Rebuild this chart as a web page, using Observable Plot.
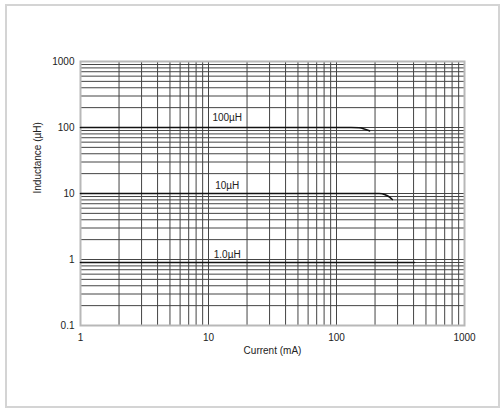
<!DOCTYPE html>
<html>
<head>
<meta charset="utf-8">
<script src="https://cdn.jsdelivr.net/npm/d3@7"></script>
<script src="https://cdn.jsdelivr.net/npm/@observablehq/plot@0.6"></script>
<style>
  html, body { margin: 0; padding: 0; background: #fff; }
  #wrap { position: relative; width: 501px; height: 408px; overflow: hidden; }
  #border { position: absolute; left: 5px; top: 4px; width: 491px; height: 400px; border: 2px solid #d4d4d4; }
  #chart { position: absolute; left: 0; top: 0; }
</style>
</head>
<body>
<div id="wrap"><div id="border"></div><div id="chart"></div></div>
<script>
// Tick labels
const xTicks = [1, 10, 100, 1000];
const yTicks = [0.1, 1, 10, 100, 1000];
// Grid lines (1..9 per decade)
const xGrid = [1,2,3,4,5,6,7,8,9,10,20,30,40,50,60,70,80,90,100,200,300,400,500,600,700,800,900,1000];
const yGrid = [0.1,0.2,0.3,0.4,0.5,0.6,0.7,0.8,0.9,1,2,3,4,5,6,7,8,9,10,20,30,40,50,60,70,80,90,100,200,300,400,500,600,700,800,900,1000];
// Series: current (mA) and inductance (µH)
const series = ["100µH", "10µH", "1.0µH"];
const curr100 = [1, 130, 150, 165, 181];
const ind100  = [100, 100, 99, 95, 89];
const curr10  = [1, 215, 240, 260, 273];
const ind10   = [10, 10, 9.6, 8.8, 8.1];
const curr1   = [1, 407];
const ind1    = [0.9, 0.9];
// Series label positions
const labelX = [14, 14, 14];
const labelY = [142, 13.2, 1.19];

const lines = [
  ...curr100.map((c, i) => ({s: series[0], x: c, y: ind100[i]})),
  ...curr10.map((c, i) => ({s: series[1], x: c, y: ind10[i]})),
  ...curr1.map((c, i) => ({s: series[2], x: c, y: ind1[i]}))
];
const labels = series.map((s, i) => ({s, x: labelX[i], y: labelY[i]}));

const font = "Liberation Sans, Arial, sans-serif";

const chart = Plot.plot({
  width: 501,
  height: 408,
  marginLeft: 80,
  marginRight: 37,
  marginTop: 61,
  marginBottom: 83,
  style: {fontFamily: font, fontSize: "10px", color: "#222", background: "transparent"},
  x: {type: "log", domain: [1, 1000]},
  y: {type: "log", domain: [0.1, 1000]},
  marks: [
    Plot.ruleX(xGrid, {x: d => d, stroke: "#444", strokeWidth: 1}),
    Plot.ruleY(yGrid, {y: d => d, stroke: "#444", strokeWidth: 1}),
    Plot.frame({stroke: "#b8b8b8", strokeWidth: 2}),
    Plot.line(lines, {x: "x", y: "y", z: "s", stroke: "#111", strokeWidth: 1.6, curve: "monotone-x"}),
    Plot.text(labels, {x: "x", y: "y", text: "s", fontSize: 10, fill: "#222"}),
    Plot.axisX(xTicks, {tickSize: 0, tickPadding: 8, tickFormat: d => String(d), fontSize: 10, label: null}),
    Plot.axisY(yTicks, {tickSize: 0, tickPadding: 6, tickFormat: d => String(d), fontSize: 10, label: null}),
    Plot.text(["Current (mA)"], {frameAnchor: "bottom", dy: 28, fontSize: 10, fill: "#222"}),
    Plot.text(["Inductance (µH)"], {frameAnchor: "left", dx: -43, rotate: -90, fontSize: 10, fill: "#222"})
  ]
});
document.getElementById("chart").appendChild(chart);
</script>
</body>
</html>
